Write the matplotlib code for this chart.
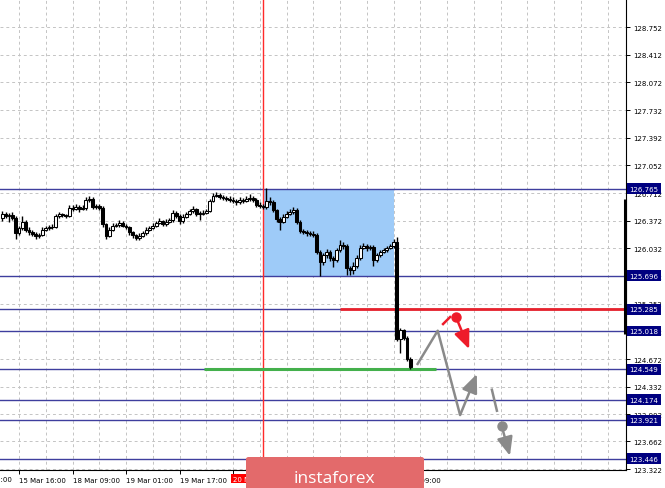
"""Recreation du graphique instaforex (bougies H1 + niveaux)."""
import numpy as np
import matplotlib
matplotlib.use("Agg")
import matplotlib.pyplot as plt
from matplotlib.patches import Rectangle, FancyBboxPatch

# --- donnees ---
first_open = 126.40
closes = [
    126.456, 126.431, 126.443, 126.406, 126.221, 126.283, 126.357, 126.258, 126.234, 126.209,
    126.184, 126.196, 126.258, 126.283, 126.290, 126.295, 126.431, 126.456, 126.443, 126.431,
    126.530, 126.518, 126.542, 126.518, 126.530, 126.629, 126.641, 126.542, 126.555, 126.530,
    126.332, 126.184, 126.258, 126.308, 126.320, 126.345, 126.308, 126.295, 126.234, 126.196,
    126.159, 126.184, 126.221, 126.258, 126.283, 126.308, 126.345, 126.369, 126.332, 126.357,
    126.382, 126.468, 126.431, 126.369, 126.419, 126.456, 126.493, 126.518, 126.456, 126.460,
    126.468, 126.493, 126.616, 126.678, 126.690, 126.666, 126.653, 126.641, 126.629, 126.616,
    126.604, 126.629, 126.616, 126.641, 126.653, 126.629, 126.567, 126.555, 126.542, 126.616,
    126.604, 126.505, 126.394, 126.357, 126.419, 126.456, 126.480, 126.505, 126.357, 126.246,
    126.234, 126.221, 126.209, 126.196, 125.987, 125.863, 125.950, 125.987, 125.913, 125.888,
    126.011, 126.073, 126.061, 125.789, 125.764, 125.814, 125.913, 126.036, 126.061, 126.036,
    126.048, 125.888, 125.950, 125.987, 126.011, 126.036, 126.061, 126.110, 124.925, 125.024,
    124.937, 124.678, 124.579]
highs = [
    126.49, 126.48, 126.47, 126.48, 126.43, 126.31, 126.43, 126.38, 126.29, 126.26,
    126.23, 126.22, 126.29, 126.31, 126.32, 126.33, 126.46, 126.48, 126.47, 126.46,
    126.56, 126.56, 126.58, 126.57, 126.56, 126.66, 126.67, 126.66, 126.58, 126.58,
    126.55, 126.35, 126.29, 126.34, 126.35, 126.38, 126.37, 126.33, 126.31, 126.25,
    126.21, 126.22, 126.25, 126.29, 126.31, 126.34, 126.37, 126.40, 126.38, 126.39,
    126.41, 126.50, 126.49, 126.45, 126.45, 126.48, 126.52, 126.55, 126.53, 126.49,
    126.50, 126.52, 126.64, 126.71, 126.72, 126.71, 126.69, 126.68, 126.67, 126.66,
    126.64, 126.66, 126.65, 126.68, 126.70, 126.68, 126.65, 126.60, 126.58, 126.78,
    126.66, 126.63, 126.52, 126.42, 126.45, 126.49, 126.52, 126.54, 126.53, 126.38,
    126.27, 126.26, 126.25, 126.24, 126.22, 126.01, 125.98, 126.02, 126.01, 125.94,
    126.04, 126.13, 126.11, 126.09, 125.82, 125.86, 125.95, 126.07, 126.10, 126.09,
    126.08, 126.07, 125.98, 126.01, 126.04, 126.06, 126.09, 126.15, 126.17, 125.06,
    125.04, 124.96, 124.70]
lows = [
    126.37, 126.40, 126.36, 126.38, 126.15, 126.20, 126.26, 126.23, 126.20, 126.18,
    126.15, 126.16, 126.18, 126.24, 126.26, 126.27, 126.28, 126.41, 126.42, 126.40,
    126.42, 126.49, 126.50, 126.48, 126.50, 126.51, 126.60, 126.52, 126.52, 126.50,
    126.30, 126.15, 126.17, 126.24, 126.29, 126.30, 126.29, 126.27, 126.20, 126.16,
    126.13, 126.14, 126.17, 126.20, 126.24, 126.27, 126.29, 126.33, 126.31, 126.31,
    126.34, 126.36, 126.41, 126.33, 126.35, 126.40, 126.44, 126.47, 126.43, 126.38,
    126.44, 126.45, 126.48, 126.60, 126.66, 126.64, 126.63, 126.61, 126.60, 126.59,
    126.57, 126.58, 126.59, 126.60, 126.62, 126.60, 126.54, 126.53, 126.52, 126.52,
    126.57, 126.48, 126.36, 126.26, 126.34, 126.40, 126.44, 126.46, 126.33, 126.22,
    126.21, 126.19, 126.18, 126.17, 125.96, 125.69, 125.83, 125.92, 125.88, 125.80,
    125.86, 125.99, 126.03, 125.70, 125.71, 125.72, 125.79, 125.89, 126.02, 126.00,
    126.01, 125.82, 125.87, 125.93, 125.97, 125.99, 126.02, 126.04, 124.90, 124.75,
    124.91, 124.65, 124.55]

# axe des prix (MT4 arrondit les pas)
price_ticks = [128.752, 128.412, 128.072, 127.732, 127.392, 127.052, 126.712, 126.372,
               126.032, 125.692, 125.352, 125.012, 124.672, 124.332, 123.992, 123.662, 123.322]
levels = [126.765, 125.696, 125.285, 125.018, 124.549, 124.174, 123.921, 123.446]

# axe du temps : une etiquette toutes les 16 bougies
time_ticks = [5, 21, 37, 53, 69, 85, 101, 117]
time_labels = ["15 Mar 16:00", "18 Mar 09:00", "19 Mar 01:00", "19 Mar 17:00",
               "20 Mar 09:00", "21 Mar 01:00", "21 Mar 17:00", "22 Mar 09:00"]
grid_x = list(range(-3, 190, 8))

# zone / lignes dessinees
box_x = (78, 117.1)
box_y = (125.696, 126.765)
vline_x = 78
red_level, red_from = 125.285, 101
green_level, green_span = 124.549, (60.3, 129.7)

# scenario (fleches)
grey_zz_x = [124.0, 130.2, 136.9, 141.9]
grey_zz_y = [124.600, 125.021, 123.985, 124.489]
grey_seg_x = [146.4, 147.9]
grey_seg_y = [124.296, 124.038]
grey_dot = (149.3, 123.854)
grey_end = (151.8, 123.485)
red_seg_x = [131.8, 133.9]
red_seg_y = [125.103, 125.189]
red_dot = (135.7, 125.186)
red_end = (139.6, 124.796)

# --- figure ---
W, H = 665, 489
fig = plt.figure(figsize=(W / 100, H / 100), dpi=100)
ax = fig.add_axes([0, 18 / H, 626 / W, 471 / H])
ax.set_xlim(-0.68, 186.5)
ax.set_ylim(123.31, 129.096)

BLUE = "#3e3e9e"
GRID = "#c4c4c4"

# grille pointillee
for gx in grid_x:
    ax.axvline(gx, color=GRID, lw=0.7, ls=(0, (3, 3)), zorder=0.5)
for gy in price_ticks:
    ax.axhline(gy, color=GRID, lw=0.7, ls=(0, (3, 3)), zorder=0.5)

ax.add_patch(Rectangle((box_x[0], box_y[0]), box_x[1] - box_x[0], box_y[1] - box_y[0],
                       facecolor="#9ecbf8", edgecolor="none", zorder=1))
for lv in levels:
    ax.axhline(lv, color=BLUE, lw=1.0, zorder=1.5)
ax.axvline(vline_x, color="#ff2a2a", lw=1.0, zorder=1.6)
ax.hlines(red_level, red_from, 186.5, color="#e8222c", lw=2.0, zorder=1.7)
ax.hlines(green_level, *green_span, color="#44b04c", lw=2.2, zorder=1.7)

# bougies
closes_a = np.array(closes)
opens_a = np.array([first_open] + closes[:-1])
xs = np.arange(len(closes))
ax.vlines(xs, lows, highs, color="black", lw=1.0, zorder=3)
face = np.where(closes_a >= opens_a, "white", "black")
hgt = closes_a - opens_a
hgt = np.where(np.abs(hgt) < 0.005, 0.005, hgt)
ax.bar(xs, hgt, bottom=opens_a, width=0.85, color=face, edgecolor="black",
       linewidth=0.75, zorder=3.2)

# fleches du scenario
GREY = "#8a8a8a"
ax.plot(grey_zz_x[:3], grey_zz_y[:3], color=GREY, lw=1.8, zorder=4, solid_capstyle="butt")
arrow = dict(arrowstyle="-|>,head_length=0.8,head_width=0.34", lw=1.8,
             shrinkA=0, shrinkB=0, mutation_scale=14)
ax.annotate("", xy=(grey_zz_x[3], grey_zz_y[3]), xytext=(grey_zz_x[2], grey_zz_y[2]),
            arrowprops=dict(color=GREY, **arrow), zorder=4)
ax.plot(grey_seg_x, grey_seg_y, color=GREY, lw=1.8, zorder=4)
ax.plot(*grey_dot, "o", color=GREY, ms=6.5, zorder=4)
ax.annotate("", xy=grey_end, xytext=grey_dot, arrowprops=dict(color=GREY, **arrow), zorder=4)
RED = "#ee1c2a"
ax.plot(red_seg_x, red_seg_y, color=RED, lw=1.8, zorder=4)
ax.plot(*red_dot, "o", color=RED, ms=6.5, zorder=4)
ax.annotate("", xy=red_end, xytext=red_dot, arrowprops=dict(color=RED, **arrow), zorder=4)

# axes
for s in ("left", "top"):
    ax.spines[s].set_visible(False)
for s in ("right", "bottom"):
    ax.spines[s].set_color("black")
    ax.spines[s].set_linewidth(0.8)
ax.yaxis.tick_right()
ax.set_yticks(price_ticks)
ax.set_yticklabels([f"{t:.3f}" for t in price_ticks])
ax.set_xticks(time_ticks)
ax.set_xticklabels(time_labels)
ax.tick_params(axis="both", labelsize=5, length=3, width=0.7, pad=2, colors="black")
for lbl in ax.get_xticklabels():
    lbl.set_ha("left")
ax.text(-11, -0.012, "15 Mar 00:00", transform=ax.get_xaxis_transform(), fontsize=5,
        ha="left", va="top", clip_on=False)
ax.text(69, -0.012, "20 Mar 09:00", transform=ax.get_xaxis_transform(), fontsize=5,
        ha="left", va="top", color="white", clip_on=False, zorder=10,
        bbox=dict(boxstyle="square,pad=0.25", facecolor="#ff0000", edgecolor="none"))

# barre epaisse sur l'echelle
ax.plot([0.999, 0.999], [124.98, 126.64], transform=ax.get_yaxis_transform(),
        color="black", lw=2.2, clip_on=False, solid_capstyle="butt", zorder=10)

# etiquettes des niveaux
for lv in levels:
    ax.text(1.0055, lv, f"{lv:.3f}", transform=ax.get_yaxis_transform(), fontsize=5,
            color="white", ha="left", va="center", clip_on=False, zorder=11,
            bbox=dict(boxstyle="square,pad=0.35", facecolor="#000080", edgecolor="none"))

# logo
fig.patches.append(FancyBboxPatch((246 / W, -0.02), 178 / W, (31 / H) + 0.02,
                                  boxstyle="round,pad=0,rounding_size=0.004",
                                  transform=fig.transFigure, facecolor="#e36a6b",
                                  edgecolor="none", zorder=20))
fig.text(334 / W, 1 - 479 / H, "instaforex", color="white", fontsize=12.5,
         family=["Open Sans", "DejaVu Sans"], ha="center", va="center", zorder=21)

fig.savefig("out.png", dpi=100)
